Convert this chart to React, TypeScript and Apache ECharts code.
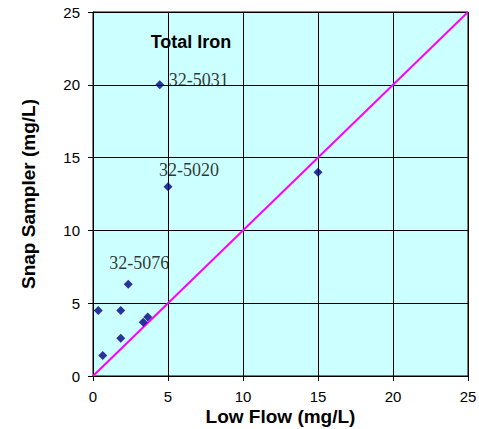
import React, { useEffect, useRef } from "react";
import * as echarts from "echarts";

const lowFlow = [0.35, 0.65, 1.85, 1.85, 2.35, 3.35, 3.65, 4.45, 5, 15];
const snapSampler = [4.5, 1.4, 4.5, 2.6, 6.3, 3.7, 4.05, 20, 13, 14];
const sampleIds = ["", "", "", "", "32-5076", "", "", "32-5031", "32-5020", ""];
const labelOffsets: Record<string, number[]> = {
  "32-5076": [11, -21],
  "32-5031": [39, -5],
  "32-5020": [21, -17],
};
const oneToOne = [
  [0, 0],
  [25, 25],
];
const axisMin = 0;
const axisMax = 25;
const axisStep = 5;

export default function App() {
  const ref = useRef<HTMLDivElement>(null);
  useEffect(() => {
    if (!ref.current) return;
    const chart = echarts.init(ref.current, undefined, { renderer: "svg" });
    const sans = "Liberation Sans";
    const serif = "Liberation Serif";
    const points = lowFlow.map((x, i) => {
      const id = sampleIds[i];
      const item: any = { value: [x, snapSampler[i]] };
      if (id) {
        item.label = {
          show: true,
          formatter: id,
          position: "inside",
          offset: labelOffsets[id],
          fontFamily: serif,
          fontSize: 18,
          color: "#000",
        };
      }
      return item;
    });
    chart.setOption({
      animation: false,
      backgroundColor: "#ffffff",
      grid: {
        left: 93,
        right: 11,
        top: 12,
        bottom: 53,
        containLabel: false,
        outerBoundsMode: "none",
        show: true,
        backgroundColor: "#CCFFFF",
        borderColor: "#000",
        borderWidth: 1,
      },
      graphic: [
        {
          type: "text",
          x: 191,
          y: 42,
          style: {
            text: "Total Iron",
            font: `bold 18px "${sans}"`,
            fill: "#000",
            textAlign: "center",
            textVerticalAlign: "middle",
          },
        },
      ],
      xAxis: {
        type: "value",
        min: axisMin,
        max: axisMax,
        interval: axisStep,
        name: "Low Flow (mg/L)",
        nameLocation: "middle",
        nameGap: 31,
        nameMoveOverlap: false,
        nameTextStyle: { fontFamily: sans, fontSize: 19, lineHeight: 19, fontWeight: "bold", color: "#000" },
        axisLine: { show: true, onZero: false, lineStyle: { color: "#000", width: 1 } },
        axisTick: { show: true, inside: false, length: 5, lineStyle: { color: "#000" } },
        axisLabel: { fontFamily: sans, fontSize: 15, lineHeight: 15, color: "#000", margin: 13 },
        splitLine: { show: true, lineStyle: { color: "#000", width: 1 } },
      },
      yAxis: {
        type: "value",
        min: axisMin,
        max: axisMax,
        interval: axisStep,
        name: "Snap Sampler (mg/L)",
        nameLocation: "middle",
        nameGap: 55,
        nameMoveOverlap: false,
        nameTextStyle: { fontFamily: sans, fontSize: 19, fontWeight: "bold", color: "#000" },
        axisLine: { show: true, onZero: false, lineStyle: { color: "#000", width: 1 } },
        axisTick: { show: true, inside: false, length: 5, lineStyle: { color: "#000" } },
        axisLabel: { fontFamily: sans, fontSize: 15, color: "#000", margin: 13 },
        splitLine: { show: true, lineStyle: { color: "#000", width: 1 } },
      },
      series: [
        {
          type: "line",
          data: oneToOne,
          symbol: "none",
          lineStyle: { color: "#FF00FF", width: 2 },
          silent: true,
          z: 2,
        },
        {
          type: "scatter",
          data: points,
          symbol: "diamond",
          symbolSize: 9,
          itemStyle: { color: "#000080" },
          label: { show: false },
          z: 3,
        },
      ],
    });
    return () => chart.dispose();
  }, []);
  return (
    <div
      ref={ref}
      style={{ position: "fixed", left: 0, top: 0, width: 479, height: 429 }}
    />
  );
}
